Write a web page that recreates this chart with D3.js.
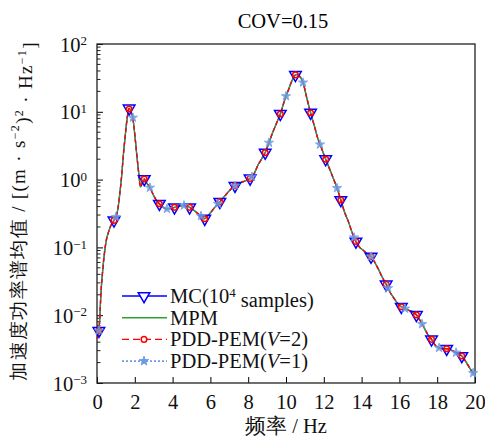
<!DOCTYPE html>
<html>
<head>
<meta charset="utf-8">
<script src="https://cdn.jsdelivr.net/npm/d3@7"></script>
<style>
  body { margin: 0; background: #fff; }
</style>
</head>
<body>
<div id="chart"></div>
<script>
// curve (all four methods lie on top of each other)
const freq = [0, 0.1, 0.15, 0.2, 0.3, 0.4, 0.5, 0.6, 0.7, 0.8, 0.9, 1.0, 1.1, 1.2, 1.3, 1.4, 1.5, 1.6, 1.7, 1.8, 1.9,
  2.0, 2.1, 2.2, 2.3, 2.4, 2.5, 2.6, 2.8, 3.0, 3.2, 3.3, 3.5, 3.7, 3.9, 4.1, 4.4, 4.6, 4.9, 5.2, 5.5, 5.7, 5.9,
  6.2, 6.5, 6.8, 7.1, 7.3, 7.6, 7.9, 8.1, 8.3, 8.5, 8.7, 8.9, 9.1, 9.3, 9.5, 9.7, 9.9, 10.1, 10.3, 10.5, 10.6,
  10.7, 10.9, 11.1, 11.3, 11.5, 11.7, 11.9, 12.1, 12.3, 12.5, 12.7, 12.9, 13.1, 13.3, 13.5, 13.7, 13.9, 14.1,
  14.3, 14.5, 14.7, 14.9, 15.1, 15.3, 15.5, 15.7, 15.9, 16.1, 16.3, 16.5, 16.7, 16.9, 17.1, 17.3, 17.5, 17.7,
  17.9, 18.1, 18.3, 18.5, 18.7, 18.9, 19.1, 19.3, 19.5, 19.7, 19.9, 20.0];
const psd = [0.0045, 0.0059, 0.0095, 0.019, 0.045, 0.085, 0.13, 0.165, 0.2, 0.225, 0.25, 0.28, 0.36, 0.6, 1.1,
  2.4, 4.6, 8.2, 11.2, 10.0, 8.0, 4.6, 2.4, 1.3, 0.78, 0.9, 1.02, 0.92, 0.76, 0.58, 0.47, 0.44, 0.39, 0.37,
  0.375, 0.39, 0.41, 0.415, 0.39, 0.34, 0.29, 0.265, 0.3, 0.38, 0.47, 0.59, 0.73, 0.81, 0.9, 0.97, 1.04, 1.2,
  1.6, 2.0, 2.5, 3.5, 5.0, 6.8, 9.3, 14, 20, 28, 35, 35.5, 34, 27, 16, 9.7, 6.2, 3.9, 2.8, 2.0, 1.45, 1.05,
  0.75, 0.5, 0.33, 0.24, 0.165, 0.122, 0.1, 0.09, 0.08, 0.073, 0.06, 0.047, 0.036, 0.0285, 0.022, 0.018,
  0.015, 0.0133, 0.0125, 0.0118, 0.0112, 0.0101, 0.0083, 0.0066, 0.0052, 0.0044, 0.0036, 0.0033, 0.0032,
  0.0032, 0.0031, 0.0029, 0.0027, 0.0025, 0.0021, 0.0017, 0.0014, 0.0013];

// markers: MC and PDD-PEM(V=2) share positions, PDD-PEM(V=1) its own
const mcFreq = [0.1, 0.9, 1.7, 2.5, 3.3, 4.1, 4.9, 5.7, 6.5, 7.3, 8.1, 8.9, 9.7, 10.5, 11.3, 12.1, 12.9, 13.7,
  14.5, 15.3, 16.1, 16.9, 17.7, 18.5, 19.3];
const mcVal = [0.0059, 0.25, 11.2, 1.02, 0.44, 0.39, 0.39, 0.265, 0.47, 0.81, 1.04, 2.5, 9.3, 35, 9.7, 2.0, 0.5,
  0.122, 0.073, 0.0285, 0.0133, 0.0101, 0.0044, 0.0032, 0.0025];
const v2Val = [0.0059, 0.25, 11.0, 1.02, 0.44, 0.39, 0.39, 0.265, 0.47, 0.81, 1.04, 2.5, 9.3, 35, 9.7, 2.0, 0.5,
  0.122, 0.073, 0.0285, 0.0133, 0.0101, 0.0044, 0.0032, 0.0025];
const v1Freq = [0.1, 1.0, 1.9, 2.8, 3.7, 4.6, 5.5, 6.4, 7.3, 8.2, 9.1, 10.0, 10.9, 11.8, 12.7, 13.6, 14.5, 15.4,
  16.3, 17.2, 18.1, 19.0, 19.9];
const v1Val = [0.0059, 0.28, 8.2, 0.76, 0.37, 0.415, 0.29, 0.44, 0.81, 1.1, 3.5, 17, 27, 3.3, 0.75, 0.14, 0.073,
  0.025, 0.0125, 0.0074, 0.0033, 0.0028, 0.0014];

const xTicks = [0, 2, 4, 6, 8, 10, 12, 14, 16, 18, 20];
const yTicks = [1e-3, 1e-2, 1e-1, 1e0, 1e1, 1e2];
const yExps = ["\u22123", "\u22122", "\u22121", "0", "1", "2"];

const FONT = "Liberation Serif";
const FS = "20.5px";

const margin = {top: 44, right: 10, bottom: 55, left: 97},
  width = 485 - margin.left - margin.right,
  height = 438 - margin.top - margin.bottom;

const svg = d3.select("#chart").append("svg")
  .attr("width", 485).attr("height", 438);
const g = svg.append("g")
  .attr("transform", "translate(" + margin.left + "," + margin.top + ")");

const x = d3.scaleLinear().domain([0, 20]).range([0, width]);
const y = d3.scaleLog().domain([1e-3, 1e2]).range([height, 0]);

// title
svg.append("text")
  .attr("x", margin.left + width / 2 - 3).attr("y", 28)
  .attr("text-anchor", "middle").attr("font-family", FONT).style("font-size", FS)
  .text("COV=0.15");

// x axis, ticks inward
const xAxis = g.append("g")
  .attr("transform", "translate(0," + height + ")")
  .call(d3.axisBottom(x).tickValues(xTicks).tickSize(-6).tickPadding(11).tickSizeOuter(0))
  .attr("font-family", FONT);
xAxis.selectAll("text").attr("font-family", FONT).attr("fill", "#111").style("font-size", FS);

// y axis: major + minor ticks inward
const minor = [];
for (let e = -3; e < 2; e++) for (let k = 2; k <= 9; k++) minor.push(k * Math.pow(10, e));
g.append("g").selectAll("line").data(minor).enter().append("line")
  .attr("x1", 0).attr("x2", 3.5)
  .attr("y1", d => y(d)).attr("y2", d => y(d))
  .attr("stroke", "#222").attr("stroke-width", 1);

const yAxis = g.append("g")
  .call(d3.axisLeft(y).tickValues(yTicks).tickSize(-6).tickPadding(10).tickFormat(""))
  .attr("font-family", FONT);
yAxis.selectAll(".tick").each(function(d, i) {
  const t = d3.select(this).select("text")
    .attr("font-family", FONT).attr("fill", "#111")
    .style("font-size", FS).attr("dy", "0.35em");
  t.append("tspan").text("10");
  t.append("tspan").attr("dy", "-0.5em").style("font-size", "13px").text(yExps[i]);
});
g.selectAll(".domain").remove();

// frame
g.append("rect")
  .attr("width", width).attr("height", height)
  .attr("fill", "none").attr("stroke", "#222").attr("stroke-width", 1.3);

// lines
const line = d3.line()
  .x((d, i) => x(freq[i]))
  .y(d => y(d))
  .curve(d3.curveMonotoneX);

const plot = g.append("g");
plot.append("path").attr("d", line(psd))
  .attr("fill", "none").attr("stroke", "#0000ff").attr("stroke-width", 1.2);
plot.append("path").attr("d", line(psd))
  .attr("fill", "none").attr("stroke", "#6b9be3").attr("stroke-width", 1.6)
  .attr("stroke-dasharray", "1.5,1.5");
plot.append("path").attr("d", line(psd))
  .attr("fill", "none").attr("stroke", "#33a02c").attr("stroke-width", 1.2);
plot.append("path").attr("d", line(psd))
  .attr("fill", "none").attr("stroke", "#ff0000").attr("stroke-width", 1.4)
  .attr("stroke-dasharray", "4,3");

const tri = d3.symbol().type(d3.symbolTriangle).size(58);
const star = d3.symbol().type(d3.symbolStar).size(26);

plot.selectAll(".mc").data(mcVal).enter().append("path")
  .attr("class", "mc").attr("d", tri)
  .attr("transform", (d, i) => "translate(" + x(mcFreq[i]) + "," + y(d) + ") rotate(180)")
  .attr("fill", "none").attr("stroke", "#0000ff").attr("stroke-width", 1.5);
plot.selectAll(".v2").data(v2Val).enter().append("circle")
  .attr("class", "v2").attr("r", 2.8)
  .attr("cx", (d, i) => x(mcFreq[i])).attr("cy", d => y(d))
  .attr("fill", "none").attr("stroke", "#ff0000").attr("stroke-width", 1.5);
plot.selectAll(".v1").data(v1Val).enter().append("path")
  .attr("class", "v1").attr("d", star)
  .attr("transform", (d, i) => "translate(" + x(v1Freq[i]) + "," + y(d) + ")")
  .attr("fill", "#6b9be3").attr("stroke", "#6b9be3").attr("stroke-width", 1)
  .attr("opacity", 0.85);

// legend
const legendItems = [
  {name: "MC", color: "#0000ff", dash: null, mark: "tri"},
  {name: "MPM", color: "#33a02c", dash: null, mark: null},
  {name: "V2", color: "#ff0000", dash: "7,4", mark: "circle"},
  {name: "V1", color: "#6b9be3", dash: "2,2", mark: "star"}
];
const legend = svg.append("g");
legendItems.forEach((it, i) => {
  const ly = 296 + i * 21.7;
  legend.append("line")
    .attr("x1", 122).attr("x2", 167).attr("y1", ly).attr("y2", ly)
    .attr("stroke", it.color).attr("stroke-width", it.name == "V1" ? 1.8 : 1.4)
    .attr("stroke-dasharray", it.dash);
  if (it.mark == "tri") legend.append("path").attr("d", tri)
    .attr("transform", "translate(144," + ly + ") rotate(180)")
    .attr("fill", "#fff").attr("stroke", it.color).attr("stroke-width", 1.5);
  if (it.mark == "circle") legend.append("circle").attr("cx", 144).attr("cy", ly).attr("r", 2.8)
    .attr("fill", "#fff").attr("stroke", it.color).attr("stroke-width", 1.5);
  if (it.mark == "star") legend.append("path").attr("d", star)
    .attr("transform", "translate(144," + ly + ")").attr("fill", it.color)
    .attr("stroke", it.color).attr("stroke-width", 1);
  const t = legend.append("text").attr("x", 170).attr("y", ly + 7)
    .attr("font-family", FONT).attr("fill", "#111").style("font-size", FS);
  if (it.name == "MC") {
    t.append("tspan").text("MC(10");
    t.append("tspan").attr("dy", "-0.5em").style("font-size", "13px").text("4");
    t.append("tspan").attr("dy", "0.5em").text(" samples)");
  } else if (it.name == "MPM") {
    t.text("MPM");
  } else {
    t.append("tspan").text("PDD-PEM(");
    t.append("tspan").style("font-style", "italic").text("V");
    t.append("tspan").text(it.name == "V2" ? "=2)" : "=1)");
  }
});

// axis titles
svg.append("text")
  .attr("x", margin.left + width / 2).attr("y", 433)
  .attr("text-anchor", "middle").attr("font-family", FONT).attr("fill", "#111")
  .style("font-size", FS)
  .text("频率 / Hz");

const yl = svg.append("text")
  .attr("transform", "translate(25," + (margin.top + height / 2 - 2) + ") rotate(-90)")
  .attr("text-anchor", "middle").attr("font-family", FONT).attr("fill", "#111")
  .style("font-size", "19px")
  .attr("textLength", 338).attr("lengthAdjust", "spacing");
yl.append("tspan").text("加速度功率谱均值 / [(m · s");
yl.append("tspan").attr("dy", "-0.5em").style("font-size", "12px").text("\u22122");
yl.append("tspan").attr("dy", "0.5em").text(")");
yl.append("tspan").attr("dy", "-0.5em").style("font-size", "12px").text("2");
yl.append("tspan").attr("dy", "0.5em").text(" · Hz");
yl.append("tspan").attr("dy", "-0.5em").style("font-size", "12px").text("\u22121");
yl.append("tspan").attr("dy", "0.5em").text("]");
</script>
</body>
</html>
